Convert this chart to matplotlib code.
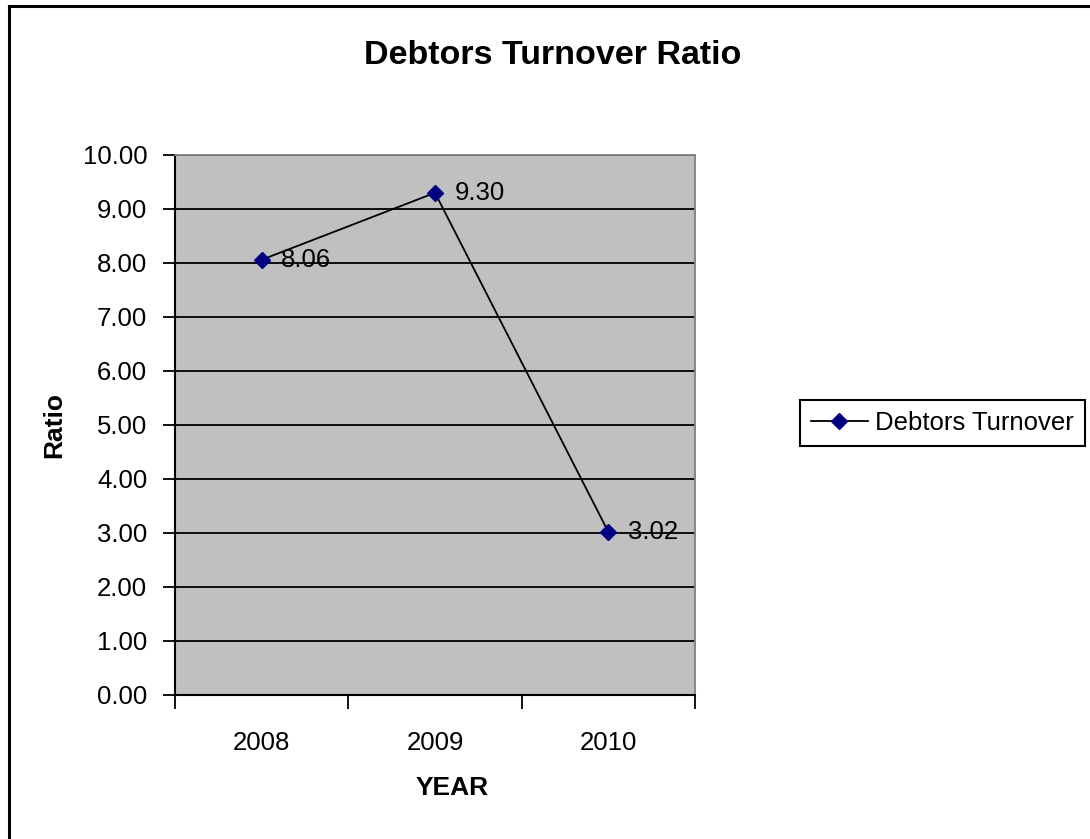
import matplotlib
matplotlib.use("Agg")
import matplotlib.pyplot as plt
from matplotlib.lines import Line2D

plt.rcParams['font.family'] = ['Liberation Sans', 'DejaVu Sans']

# Data
years = ["2008", "2009", "2010"]
ratios = [8.06, 9.30, 3.02]
series_name = "Debtors Turnover"
y_ticks = [0, 1, 2, 3, 4, 5, 6, 7, 8, 9, 10]

W, H = 1090, 839
fig = plt.figure(figsize=(W / 100, H / 100), dpi=100)

# Outer chart frame (top and left edges visible)
fig.add_artist(Line2D([9 / W, 9 / W], [0, 1 - 6 / H], transform=fig.transFigure,
                      color="black", lw=2.2, solid_capstyle="projecting"))
fig.add_artist(Line2D([9 / W, 1], [1 - 6 / H, 1 - 6 / H], transform=fig.transFigure,
                      color="black", lw=2.2, solid_capstyle="projecting"))

left, right, top, bottom = 175, 695, 155, 695
ax = fig.add_axes([left / W, 1 - bottom / H, (right - left) / W, (bottom - top) / H])
ax.set_facecolor("#C0C0C0")

x = list(range(len(years)))
ax.plot(x, ratios, color="black", lw=1.3, marker="D", markersize=8,
        markerfacecolor="#000080", markeredgecolor="#000080", label=series_name,
        zorder=4)

for xi, v in zip(x, ratios):
    ax.annotate(f"{v:.2f}", (xi, v), xytext=(14, 0), textcoords="offset points",
                ha="left", va="center", fontsize=18.5, color="black", zorder=5)

ax.set_xlim(-0.5, len(years) - 0.5)
ax.set_ylim(0, 10)
ax.set_yticks(y_ticks)
ax.set_yticklabels([f"{t:.2f}" for t in y_ticks])
ax.set_xticks([i - 0.5 for i in range(len(years) + 1)], minor=False)
ax.set_xticklabels([])
ax.set_xticks(x, minor=True)
ax.set_xticklabels(years, minor=True)

ax.yaxis.grid(True, color="black", lw=1.3)
ax.set_axisbelow(True)

ax.tick_params(axis="y", which="major", direction="out", length=9, width=1.3,
               labelsize=18.5, pad=11)
ax.tick_params(axis="x", which="major", direction="out", length=10, width=1.3)
ax.tick_params(axis="x", which="minor", length=0, labelsize=18.5, pad=26)

for side in ("left", "bottom"):
    ax.spines[side].set_color("black")
    ax.spines[side].set_linewidth(1.5)
for side in ("top", "right"):
    ax.spines[side].set_color("#808080")
    ax.spines[side].set_linewidth(1.3)

fig.text(553 / W, 1 - 55 / H, "Debtors Turnover Ratio",
         ha="center", va="center", fontsize=24.5, fontweight="bold")
fig.text(54 / W, 1 - 425 / H, "Ratio", ha="center", va="center",
         rotation=90, fontsize=19, fontweight="bold")
fig.text(452 / W, 1 - 788 / H, "YEAR", ha="center", va="center",
         fontsize=19, fontweight="bold")

leg = fig.legend(loc="center right", bbox_to_anchor=(1085 / W, 1 - 423 / H),
                 bbox_transform=fig.transFigure, borderaxespad=0,
                 fancybox=False, shadow=False, framealpha=1, edgecolor="black",
                 fontsize=18.5, handlelength=2.2, handletextpad=0.3,
                 borderpad=0.42)
leg.get_frame().set_linewidth(1.5)

fig.savefig("out.png", dpi=100)
